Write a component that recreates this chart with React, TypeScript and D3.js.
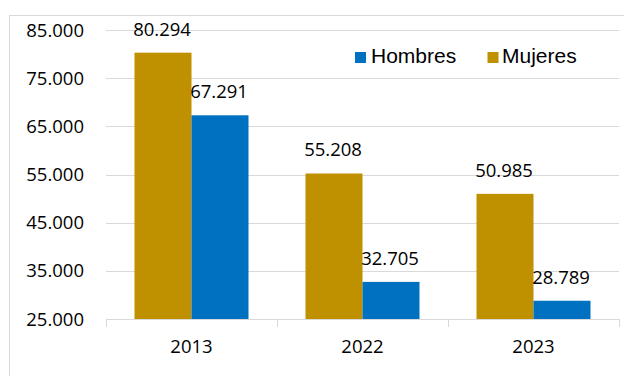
import React from "react";
import * as d3 from "d3";

const categories = ["2013", "2022", "2023"];
const seriesNames = ["Mujeres", "Hombres"];
const mujeres = [80294, 55208, 50985];
const hombres = [67291, 32705, 28789];
const yTicks = [25000, 35000, 45000, 55000, 65000, 75000, 85000];
const colors = ["#BF9000", "#0070C0"];

const fmt = (v: number) => d3.format(",")(v).replace(/,/g, ".");
const fmtTick = (v: number) => d3.format(",.0f")(v).replace(/,/g, ".");

export default function App() {
  const W = 624, H = 376;
  const left = 106, right = 619, top = 30, bottom = 319;
  const x = d3.scaleBand().domain(categories).range([left, right]).paddingInner(0).paddingOuter(0);
  const x1 = d3.scaleBand().domain(seriesNames).range([0, x.bandwidth()]).paddingInner(0).paddingOuter(0.5);
  const y = d3.scaleLinear().domain([25000, 85000]).range([bottom, top]);
  const values = [mujeres, hombres];
  const font = "'Open Sans', sans-serif";
  const fs = 18.5;
  const legendFont = "'Liberation Sans', Arial, sans-serif";
  return (
    <svg width={W} height={H} style={{ position: "absolute", left: 0, top: 0 }}>
      <rect x={0} y={0} width={W} height={H} fill="#fff" />
      <rect x={9.5} y={15.5} width={W} height={H} fill="#fff" stroke="#d9d9d9" strokeWidth={1} />
      {yTicks.map((t) => (
        <g key={t}>
          {t !== 25000 && (
            <line x1={left} x2={right} y1={Math.round(y(t)) + 0.5} y2={Math.round(y(t)) + 0.5} stroke="#d9d9d9" />
          )}
          <text x={84} y={y(t) + 6.5} textAnchor="end" fontFamily={font} fontSize={fs} fill="#000">
            {fmtTick(t)}
          </text>
        </g>
      ))}
      {categories.map((c, i) => (
        <g key={c}>
          {seriesNames.map((s, j) => {
            const v = values[j][i];
            const bx = (x(c) as number) + (x1(s) as number);
            return (
              <g key={s}>
                <rect x={bx} y={y(v)} width={x1.bandwidth()} height={bottom - y(v)} fill={colors[j]} />
                <text x={bx + x1.bandwidth() / 2 - 1} y={y(v) - 17} textAnchor="middle" fontFamily={font} fontSize={fs} fill="#000">
                  {fmt(v)}
                </text>
              </g>
            );
          })}
          <text x={(x(c) as number) + x.bandwidth() / 2} y={353} textAnchor="middle" fontFamily={font} fontSize={fs} fill="#000">
            {c}
          </text>
        </g>
      ))}
      <line x1={left} x2={right} y1={bottom + 0.5} y2={bottom + 0.5} stroke="#d9d9d9" />
      {[...categories.map((c) => x(c) as number), right].map((tx, i) => (
        <line key={i} x1={Math.round(tx) + 0.5} x2={Math.round(tx) + 0.5} y1={bottom} y2={bottom + 8} stroke="#d9d9d9" />
      ))}
      <g>
        <rect x={355} y={52} width={11} height={11} fill={colors[1]} />
        <text x={371} y={62.7} fontFamily={legendFont} fontSize={21} fill="#000">Hombres</text>
        <rect x={487.5} y={52} width={11} height={11} fill={colors[0]} />
        <text x={502} y={62.7} fontFamily={legendFont} fontSize={21} fill="#000">Mujeres</text>
      </g>
    </svg>
  );
}
